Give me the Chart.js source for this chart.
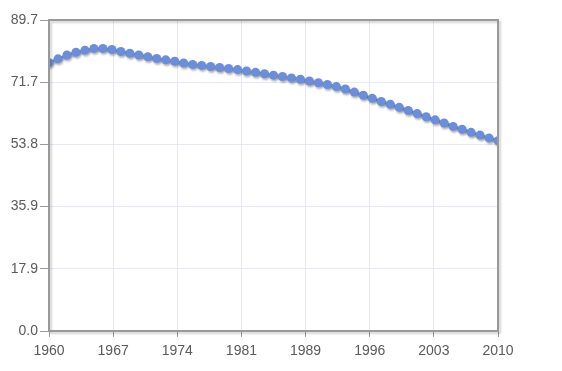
<!DOCTYPE html>
<html>
<head>
<meta charset="utf-8">
<script src="https://cdn.jsdelivr.net/npm/chart.js@4/dist/chart.umd.min.js"></script>
<style>
  html, body { margin: 0; padding: 0; background: #fff; }
  #chart { display: block; }
</style>
</head>
<body>
<canvas id="chart" width="562" height="371"></canvas>
<script>
// data
let years = [1960,1961,1962,1963,1964,1965,1966,1967,1968,1969,
             1970,1971,1972,1973,1974,1975,1976,1977,1978,1979,
             1980,1981,1982,1983,1984,1985,1986,1987,1988,1989,
             1990,1991,1992,1993,1994,1995,1996,1997,1998,1999,
             2000,2001,2002,2003,2004,2005,2006,2007,2008,2009,2010]
let values = [77.4,78.5,79.6,80.4,81.0,81.5,81.5,81.2,80.6,80.1,
              79.6,79.1,78.6,78.2,77.8,77.3,76.9,76.6,76.3,76.0,
              75.7,75.4,75.0,74.6,74.2,73.8,73.4,73.0,72.6,72.1,
              71.6,71.1,70.5,69.8,68.9,68.0,67.1,66.2,65.4,64.5,
              63.6,62.7,61.8,60.9,60.0,59.0,58.2,57.3,56.5,55.7,54.9]
let xTickLabels = ['1960','1967','1974','1981','1989','1996','2003','2010']
let yTickLabels = ['0.0','17.9','35.9','53.8','71.7','89.7']

let xMin = 1960, xMax = 2010, yMin = 0, yMax = 89.7
let tickFont = { family: "'Liberation Sans', Arial, sans-serif", size: 14 }

/* shadow under the line and a framed plot area */
let shadowPlugin = {
    id: 'shadows',
    beforeDatasetsDraw(chart) {
        let ctx = chart.ctx
        ctx.save()
        ctx.shadowColor = 'rgba(0,0,0,0.28)'
        ctx.shadowOffsetX = 1
        ctx.shadowOffsetY = 2
        ctx.shadowBlur = 2
    },
    afterDatasetsDraw(chart) {
        let ctx = chart.ctx
        ctx.restore()
        let a = chart.chartArea
        ctx.save()
        ctx.strokeStyle = '#999'
        ctx.lineWidth = 2
        ctx.shadowColor = 'rgba(0,0,0,0.18)'
        ctx.shadowOffsetX = 2
        ctx.shadowOffsetY = 2
        ctx.shadowBlur = 2
        ctx.strokeRect(a.left, a.top, a.right - a.left, a.bottom - a.top)
        ctx.restore()
    }
}

let ctx = document.getElementById('chart').getContext('2d')
new Chart(ctx, {
    type: 'line',
    data: {
        datasets: [{
            data: years.map((y, i) => ({ x: y, y: values[i] })),
            borderColor: '#6a8edb',
            backgroundColor: '#6a8edb',
            borderWidth: 2.5,
            pointRadius: 4.5,
            pointBorderWidth: 0,
            pointBackgroundColor: '#6a8edb',
            tension: 0,
            clip: 0
        }]
    },
    options: {
        responsive: false,
        animation: false,
        events: [],
        layout: { padding: { left: 0, top: 20, right: 64, bottom: 0 } },
        plugins: { legend: { display: false }, tooltip: { enabled: false } },
        scales: {
            x: {
                type: 'linear',
                min: xMin,
                max: xMax,
                afterBuildTicks: s => {
                    s.ticks = xTickLabels.map((l, i) => ({ value: xMin + i * (xMax - xMin) / (xTickLabels.length - 1) }))
                },
                afterFit: s => { s.height = 40 },
                ticks: {
                    callback: (v, i) => xTickLabels[i],
                    color: '#5a5a5a',
                    font: tickFont,
                    padding: 6,
                    maxRotation: 0,
                    autoSkip: false
                },
                grid: { color: '#e8e8f4', lineWidth: 1, tickColor: '#999', tickLength: 6 },
                border: { display: false }
            },
            y: {
                min: yMin,
                max: yMax,
                afterBuildTicks: s => {
                    s.ticks = yTickLabels.map((l, i) => ({ value: yMin + i * (yMax - yMin) / (yTickLabels.length - 1) }))
                },
                afterFit: s => { s.width = 49 },
                ticks: {
                    callback: (v, i) => yTickLabels[i],
                    color: '#5a5a5a',
                    font: tickFont,
                    padding: 2
                },
                grid: { color: '#e8e8f4', lineWidth: 1, tickColor: '#999', tickLength: 9 },
                border: { display: false }
            }
        }
    },
    plugins: [shadowPlugin]
})
</script>
</body>
</html>
